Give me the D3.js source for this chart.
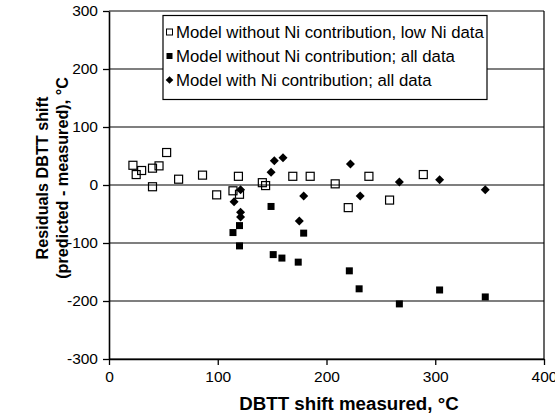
<!DOCTYPE html>
<html>
<head>
<meta charset="utf-8">
<script src="https://cdn.jsdelivr.net/npm/d3@7"></script>
<style>
  html, body { margin: 0; padding: 0; background: #fff; }
  svg { display: block; font-family: "Liberation Sans", Arial, sans-serif; }
</style>
</head>
<body>
<svg id="chart" width="555" height="416"></svg>
<script>
// Model without Ni contribution, low Ni data: [measured shift, residual]
const lowNiX = [22, 25, 30, 40, 46, 53, 40, 64, 86, 99, 119, 114, 120, 141, 144, 169, 185, 208, 220, 239, 258, 289];
const lowNiY = [34, 18, 25, 29, 33, 56, -3, 10, 17, -17, 15, -10, -16, 4, -1, 15, 15, 2, -39, 15, -26, 18];

// Model without Ni contribution; all data
const allNoNiX = [149, 120, 114, 120, 151, 159, 179, 174, 221, 230, 267, 304, 346];
const allNoNiY = [-37, -70, -82, -105, -120, -126, -83, -133, -148, -179, -205, -181, -193];

// Model with Ni contribution; all data
const withNiX = [152, 160, 149, 121, 115, 121, 121, 179, 175, 222, 231, 267, 304, 346];
const withNiY = [42, 47, 22, -8, -29, -47, -55, -19, -62, 36, -19, 5, 9, -8];

const xTicks = [0, 100, 200, 300, 400];
const yTicks = [-300, -200, -100, 0, 100, 200, 300];

const seriesNames = [
  "Model without Ni contribution, low Ni data",
  "Model without Ni contribution; all data",
  "Model with Ni contribution; all data"
];

const svg = d3.select("#chart");
const plotLeft = 109, plotRight = 544, plotTop = 11, plotBottom = 359;

const x = d3.scaleLinear().domain([0, 400]).range([plotLeft, plotRight]);
const y = d3.scaleLinear().domain([-300, 300]).range([plotBottom, plotTop]);

// horizontal gridlines
svg.append("g")
  .selectAll("line")
  .data(yTicks)
  .join("line")
  .attr("x1", plotLeft).attr("x2", plotRight)
  .attr("y1", d => y(d)).attr("y2", d => y(d))
  .attr("stroke", "#000").attr("stroke-width", 1.2);

// right border of plot area
svg.append("line")
  .attr("x1", plotRight).attr("x2", plotRight)
  .attr("y1", plotTop).attr("y2", plotBottom)
  .attr("stroke", "#000").attr("stroke-width", 1.2);

// axes (plain hyphen for negative labels)
const plainLabel = d => String(d);
const xAxis = svg.append("g")
  .attr("transform", `translate(0,${plotBottom})`)
  .call(d3.axisBottom(x).tickValues(xTicks).tickFormat(plainLabel)
    .tickSize(6).tickPadding(6).tickSizeOuter(0));
const yAxis = svg.append("g")
  .attr("transform", `translate(${plotLeft},0)`)
  .call(d3.axisLeft(y).tickValues(yTicks).tickFormat(plainLabel)
    .tickSize(6).tickPadding(5).tickSizeOuter(0));

[xAxis, yAxis].forEach(a => {
  a.select(".domain").attr("stroke", "#000").attr("stroke-width", 1.6);
  a.selectAll(".tick line").attr("stroke", "#000").attr("stroke-width", 1.3);
  a.selectAll(".tick text")
    .attr("fill", "#000")
    .style("font-size", "15.5px")
    .style("font-family", "'Liberation Sans', Arial, sans-serif");
});

// axis titles
svg.append("text")
  .attr("x", 349).attr("y", 410)
  .attr("text-anchor", "middle")
  .style("font-size", "18.7px").style("font-weight", "bold")
  .text("DBTT shift measured, °C");

const yTitle = svg.append("g").attr("transform", "translate(0,178) rotate(-90)");
yTitle.append("text")
  .attr("x", 0).attr("y", 47.5)
  .attr("text-anchor", "middle")
  .style("font-size", "16.2px").style("font-weight", "bold")
  .text("Residuals DBTT shift");
yTitle.append("text")
  .attr("x", 0).attr("y", 67.5)
  .attr("text-anchor", "middle")
  .style("font-size", "16.2px").style("font-weight", "bold")
  .text("(predicted -  measured), °C");

// markers
const diamond = s => `M0,${-s}L${s},0L0,${s}L${-s},0Z`;
const pts = (xs, ys) => xs.map((v, i) => [v, ys[i]]);

svg.append("g").selectAll("rect")
  .data(pts(allNoNiX, allNoNiY))
  .join("rect")
  .attr("x", d => x(d[0]) - 3.5).attr("y", d => y(d[1]) - 3.5)
  .attr("width", 7).attr("height", 7)
  .attr("fill", "#000");

svg.append("g").selectAll("path")
  .data(pts(withNiX, withNiY))
  .join("path")
  .attr("transform", d => `translate(${x(d[0])},${y(d[1])})`)
  .attr("d", diamond(4.5))
  .attr("fill", "#000");

svg.append("g").selectAll("rect")
  .data(pts(lowNiX, lowNiY))
  .join("rect")
  .attr("x", d => x(d[0]) - 4).attr("y", d => y(d[1]) - 4)
  .attr("width", 8).attr("height", 8)
  .attr("fill", "none").attr("stroke", "#000").attr("stroke-width", 1.2);

// legend
const lg = svg.append("g");
lg.append("rect")
  .attr("x", 163).attr("y", 15.5).attr("width", 324).attr("height", 84)
  .attr("fill", "#fff").attr("stroke", "#000").attr("stroke-width", 1.2);

const rowY = [32, 56, 80];
lg.append("rect").attr("x", 166.5).attr("y", rowY[0] - 3).attr("width", 6).attr("height", 6)
  .attr("fill", "none").attr("stroke", "#000").attr("stroke-width", 1);
lg.append("rect").attr("x", 166.5).attr("y", rowY[1] - 3).attr("width", 6).attr("height", 6)
  .attr("fill", "#000");
lg.append("path").attr("transform", `translate(169.5,${rowY[2]})`).attr("d", diamond(3.8)).attr("fill", "#000");

lg.selectAll("text.lbl")
  .data(seriesNames)
  .join("text")
  .attr("class", "lbl")
  .attr("x", 176).attr("y", (d, i) => rowY[i])
  .attr("dy", "0.36em")
  .style("font-size", "16.8px")
  .text(d => d);
</script>
</body>
</html>
